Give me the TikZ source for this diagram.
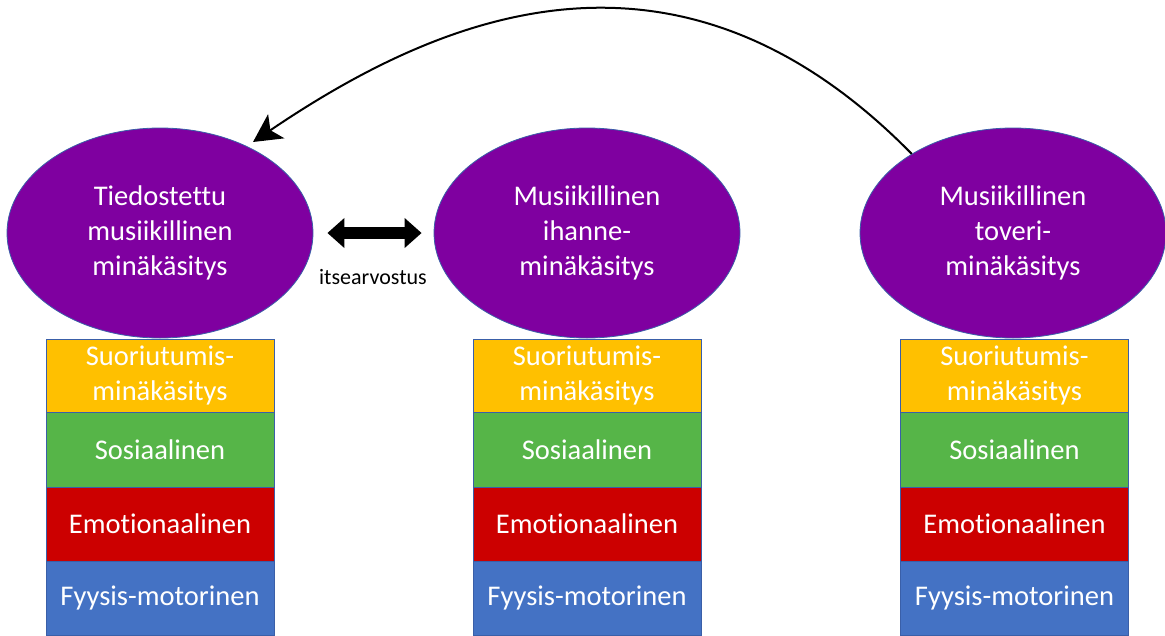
\documentclass[tikz,border=0pt]{standalone}
\usepackage{fontspec}
\setmainfont{Carlito}[Ligatures=NoCommon]
\usetikzlibrary{shapes.geometric,arrows.meta}
\definecolor{purp}{HTML}{7F00A0}
\definecolor{edgeblue}{HTML}{3A5FA8}
\definecolor{ylw}{HTML}{FFC000}
\definecolor{grn}{HTML}{56B548}
\definecolor{rd}{HTML}{CC0000}
\definecolor{blu}{HTML}{4472C4}
\begin{document}
\begin{tikzpicture}[x=1pt,y=-1pt,
  ell/.style={ellipse,fill=purp,draw=edgeblue,line width=0.8pt,
    minimum width=306pt,minimum height=210pt,inner sep=0pt,
    text=white,font=\fontsize{28.5}{35}\selectfont,align=center},
  layer/.style={rectangle,draw=edgeblue,line width=0.8pt,
    minimum width=228pt,inner sep=0pt,text=white,
    font=\fontsize{28.5}{35}\selectfont,align=center},
  ly/.style={layer,fill=ylw,minimum height=73pt},
  lg/.style={layer,fill=grn,minimum height=75pt},
  lr/.style={layer,fill=rd,minimum height=74pt},
  lb/.style={layer,fill=blu,minimum height=74pt},
  dbl/.style={line width=12pt,{Triangle[length=17pt,width=29pt]}-{Triangle[length=17pt,width=29pt]}},
  curvearrow/.style={line width=2pt,-{Stealth[length=28pt,width=29pt,inset=7pt]}},
  lbl/.style={font=\fontsize{22}{26}\selectfont,text=black,inner sep=0pt}
]
\useasboundingbox (0,0) rectangle (1165,635);

% layer stacks
\foreach \c/\x in {A/160,B/587,C/1014.5}{
  \node[ly] (\c1) at (\x,375.5) {Suoriutumis-\\minäkäsitys};
  \node[lg] (\c2) at (\x,449.5) {Sosiaalinen};
  \node[lr] (\c3) at (\x,524) {Emotionaalinen};
  \node[lb] (\c4) at (\x,598) {Fyysis-motorinen};
}

% ellipses
\node[ell] (L) at (160,233) {Tiedostettu\\musiikillinen\\minäkäsitys};
\node[ell] (M) at (587,233) {Musiikillinen\\ihanne-\\minäkäsitys};
\node[ell] (R) at (1013,233) {Musiikillinen\\toveri-\\minäkäsitys};

% double arrow
\draw[dbl,shorten <=14pt,shorten >=12pt] (L.east) -- (M.west);
\node[lbl] (itse) at (373,277) {itsearvostus};

% curved arrow
\coordinate (tipL) at (253,142);
\draw[curvearrow] (R.142) .. controls (676,-86) and (439,16) .. (tipL);
\end{tikzpicture}
\end{document}
